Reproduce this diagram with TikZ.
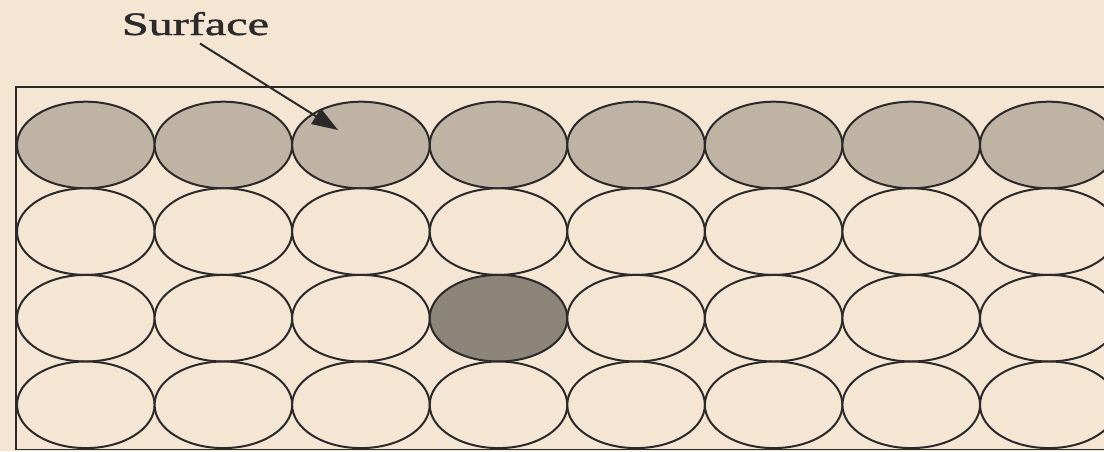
\documentclass[tikz,border=0pt]{standalone}
\usepackage{fontspec}
\usetikzlibrary{arrows.meta,shapes.geometric}
\newfontfamily\lblfont[FakeBold=1.2]{Liberation Serif}
\definecolor{bgc}{HTML}{F5E5D3}
\definecolor{surf}{HTML}{BFB3A4}
\definecolor{darkc}{HTML}{8E857A}
\definecolor{linec}{HTML}{2A2A2A}
\tikzset{
  cell/.style={ellipse, draw=linec, line width=2pt, minimum width=137.6pt, minimum height=86.6pt, inner sep=0pt, outer sep=0pt},
  blank/.style={cell, fill=bgc},
  surfcell/.style={cell, fill=surf},
  darkcell/.style={cell, fill=darkc},
  box/.style={draw=linec, line width=1.6pt},
  arrowline/.style={draw=linec, line width=2pt, -{Triangle[length=26pt,width=18pt]}},
}
\begin{document}
\begin{tikzpicture}[x=1pt,y=-1pt]
\useasboundingbox (0,0) rectangle (1104,451);
\clip (0,0) rectangle (1104,451);
\fill[bgc] (0,0) rectangle (1104,451);
\draw[box] (16,87) rectangle (1130,449.5);
\foreach \i in {0,...,7}{
  \node[surfcell] (c\i-0) at (85.8+137.57*\i,145) {};
  \foreach \j in {1,2,3}{
    \ifnum\i=3 \ifnum\j=2
      \node[darkcell] (c\i-\j) at (85.8+137.57*\i,145+86.6*\j) {};
    \else
      \node[blank] (c\i-\j) at (85.8+137.57*\i,145+86.6*\j) {};
    \fi\else
      \node[blank] (c\i-\j) at (85.8+137.57*\i,145+86.6*\j) {};
    \fi
  }
}
\node[inner sep=0pt, anchor=base, text=linec] (lbl) at (195.5,35) {\resizebox{147pt}{23pt}{\lblfont Surface}};
\coordinate (tip) at (338,130);
\draw[arrowline] ([xshift=4.5pt,yshift=-8pt]lbl.south) -- (tip);
\end{tikzpicture}
\end{document}
